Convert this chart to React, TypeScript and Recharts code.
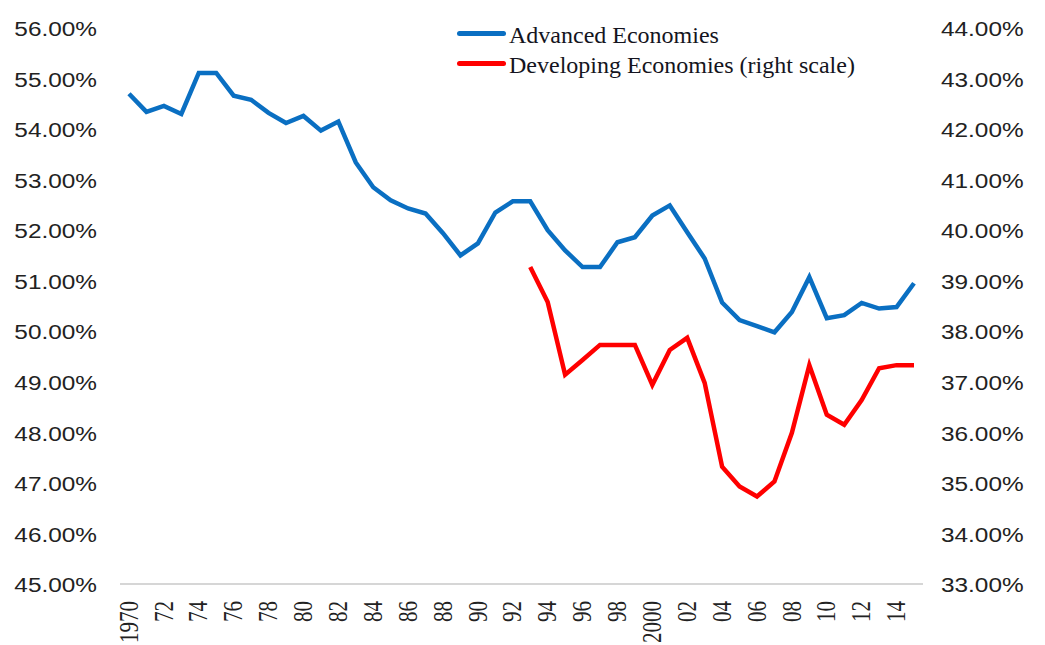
import { LineChart, Line, XAxis, YAxis } from 'recharts';

const years = [
  1970, 1971, 1972, 1973, 1974, 1975, 1976, 1977, 1978, 1979,
  1980, 1981, 1982, 1983, 1984, 1985, 1986, 1987, 1988, 1989,
  1990, 1991, 1992, 1993, 1994, 1995, 1996, 1997, 1998, 1999,
  2000, 2001, 2002, 2003, 2004, 2005, 2006, 2007, 2008, 2009,
  2010, 2011, 2012, 2013, 2014, 2015,
];

const advanced = [
  54.70, 54.34, 54.46, 54.30, 55.11, 55.11, 54.66, 54.58, 54.32, 54.12,
  54.26, 53.97, 54.15, 53.34, 52.85, 52.59, 52.43, 52.33, 51.94, 51.50,
  51.74, 52.35, 52.57, 52.57, 52.00, 51.60, 51.27, 51.27, 51.76, 51.86,
  52.29, 52.49, 51.96, 51.44, 50.57, 50.22, 50.10, 49.98, 50.38, 51.07,
  50.26, 50.32, 50.56, 50.45, 50.48, 50.95,
];

// right scale, starts in 1993
const developing = [
  null, null, null, null, null, null, null, null, null, null,
  null, null, null, null, null, null, null, null, null, null,
  null, null, null, 39.27, 38.58, 37.14, 37.43, 37.73, 37.73, 37.73,
  36.94, 37.63, 37.87, 36.98, 35.32, 34.93, 34.73, 35.03, 35.99, 37.33,
  36.35, 36.15, 36.64, 37.27, 37.33, 37.33,
];

const leftTicks = [45, 46, 47, 48, 49, 50, 51, 52, 53, 54, 55, 56];
const rightTicks = [33, 34, 35, 36, 37, 38, 39, 40, 41, 42, 43, 44];

const seriesNames = ['Advanced Economies', 'Developing Economies (right scale)'];
const BLUE = '#0a6fc2';
const RED = '#ff0000';

const data = years.map((y, i) => ({
  year: y,
  advanced: advanced[i],
  developing: developing[i],
}));

const yearLabel = (y: number) => (y === 1970 || y === 2000 ? String(y) : String(y).slice(2));

const PctTick = ({ x, y, payload, anchor }: any) => (
  <text
    transform={`translate(${x},${y}) scale(1.25,1)`}
    textAnchor={anchor}
    dy="0.42em"
    fontFamily="'Liberation Sans', Arial, sans-serif"
    fontSize={19.5}
    fill="#222"
  >
    {`${Number(payload.value).toFixed(2)}%`}
  </text>
);

const YearTick = ({ x, y, payload }: any) => (
  <text
    transform={`translate(${x},${y + 17}) scale(1.25,1) rotate(-90)`}
    textAnchor="end"
    dy="0.33em"
    fontFamily="'Liberation Serif', 'Times New Roman', serif"
    fontSize={21}
    fill="#222"
  >
    {yearLabel(payload.value)}
  </text>
);

const LegendBox = () => (
  <div
    style={{
      position: 'absolute',
      top: 20,
      left: 457,
      fontFamily: "'Liberation Serif', 'Times New Roman', serif",
      fontSize: 24,
      color: '#141420',
    }}
  >
    {seriesNames.map((name, i) => (
      <div key={name} style={{ display: 'flex', alignItems: 'center', height: 30 }}>
        <span
          style={{
            display: 'inline-block',
            width: 49,
            height: 5,
            borderRadius: 3,
            background: i === 0 ? BLUE : RED,
            marginRight: 3,
            position: 'relative',
            top: -2,
          }}
        />
        <span style={{ whiteSpace: 'nowrap' }}>{name}</span>
      </div>
    ))}
  </div>
);

export default function App() {
  return (
    <div style={{ position: 'absolute', left: 0, top: 0, width: 1045, height: 645, background: '#fff' }}>
      <LineChart width={1045} height={645} data={data} margin={{ top: 28, right: 0, bottom: 0, left: 0 }}>
        <XAxis
          dataKey="year"
          height={61}
          interval={1}
          padding={{ left: 9, right: 9 }}
          tickLine={false}
          tickSize={0}
          tickMargin={0}
          axisLine={{ stroke: '#d6d6d6', strokeWidth: 2 }}
          tick={<YearTick />}
        />
        <YAxis
          yAxisId="left"
          width={120}
          domain={[45, 56]}
          ticks={leftTicks}
          interval={0}
          axisLine={false}
          tickLine={false}
          tickSize={0}
          tickMargin={23}
          tick={<PctTick anchor="end" />}
        />
        <YAxis
          yAxisId="right"
          orientation="right"
          width={122}
          domain={[33, 44]}
          ticks={rightTicks}
          interval={0}
          axisLine={false}
          tickLine={false}
          tickSize={0}
          tickMargin={18}
          tick={<PctTick anchor="start" />}
        />
        <Line
          yAxisId="left"
          type="linear"
          dataKey="advanced"
          name={seriesNames[0]}
          stroke={BLUE}
          strokeWidth={4.5}
          dot={false}
          isAnimationActive={false}
        />
        <Line
          yAxisId="right"
          type="linear"
          dataKey="developing"
          name={seriesNames[1]}
          stroke={RED}
          strokeWidth={4.5}
          dot={false}
          isAnimationActive={false}
        />
      </LineChart>
      <LegendBox />
    </div>
  );
}
